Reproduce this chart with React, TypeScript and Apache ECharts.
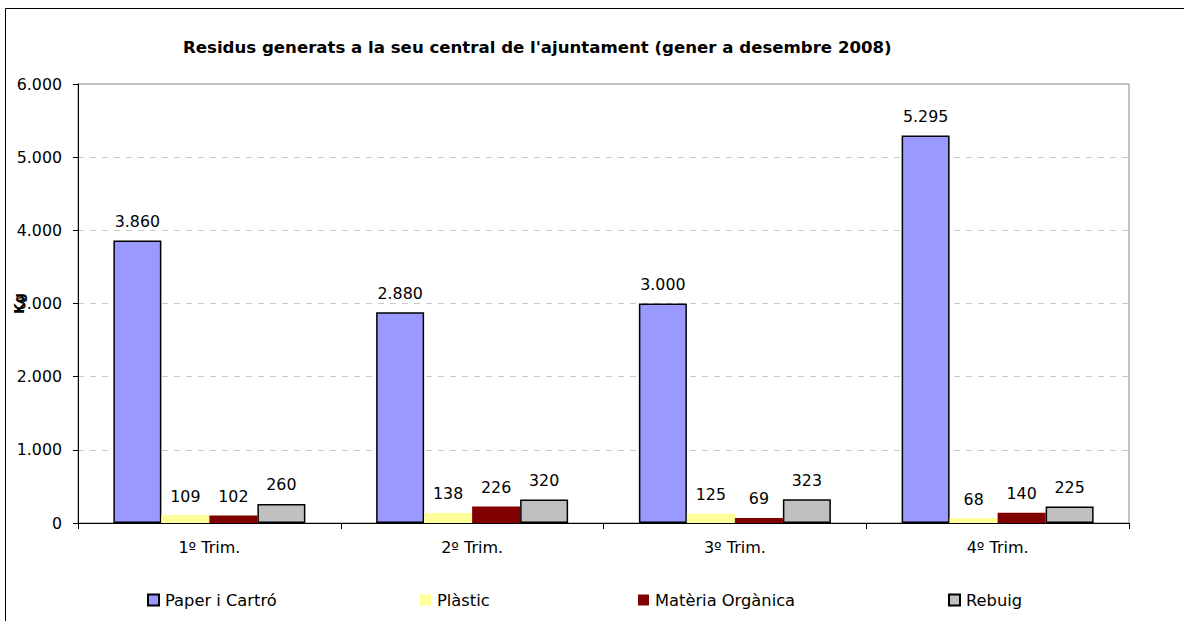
import React, { useEffect, useRef } from "react";
import * as echarts from "echarts";

const categories = ["1º Trim.", "2º Trim.", "3º Trim.", "4º Trim."];
const paperValues = [3860, 2880, 3000, 5295];
const plasticValues = [109, 138, 125, 68];
const organicValues = [102, 226, 69, 140];
const rebuigValues = [260, 320, 323, 225];
const seriesNames = ["Paper i Cartró", "Plàstic", "Matèria Orgànica", "Rebuig"];
const yTicks = [0, 1000, 2000, 3000, 4000, 5000, 6000];

const FONT = "'DejaVu Sans', 'Liberation Sans', Arial, sans-serif";

function fmt(v: number): string {
  return String(Math.round(v)).replace(/\B(?=(\d{3})+(?!\d))/g, ".");
}

export default function App() {
  const ref = useRef<HTMLDivElement>(null);
  useEffect(() => {
    document.body.style.margin = "0";
    const chart = echarts.init(ref.current!, null, { renderer: "svg" });
    const colors = ["#9999FF", "#FFFF99", "#800000", "#C0C0C0"];
    const borders = ["#000000", null, null, "#000000"];
    const datas = [paperValues, plasticValues, organicValues, rebuigValues];
    const legendLefts = [147, 420, 638, 948];
    chart.setOption({
      animation: false,
      backgroundColor: "#ffffff",
      title: {
        text: "Residus generats a la seu central de l'ajuntament (gener a desembre 2008)",
        left: 183,
        top: 39,
        padding: 0,
        textStyle: { fontFamily: FONT, fontSize: 16.6, fontWeight: "bold", color: "#000" },
      },
      graphic: [
        {
          type: "rect",
          shape: { x: 5.5, y: 8.5, width: 1300, height: 700 },
          style: { fill: "none", stroke: "#000", lineWidth: 1 },
          silent: true,
        },
      ],
      legend: seriesNames.map((n, i) => ({
        data: [n],
        left: legendLefts[i],
        top: 592,
        padding: 0,
        itemWidth: 11,
        itemHeight: 11,
        icon: "rect",
        textStyle: { fontFamily: FONT, fontSize: 16.3, color: "#000", padding: [0, 0, 0, 1] },
      })),
      grid: {
        left: 78,
        right: 55,
        top: 84,
        bottom: 98,
        show: true,
        borderColor: "#888888",
        borderWidth: 1,
        containLabel: false,
        outerBoundsMode: "none",
      },
      xAxis: {
        type: "category",
        data: categories,
        axisLine: { lineStyle: { color: "#000", width: 1 } },
        axisTick: { show: true, length: 6, lineStyle: { color: "#000" } },
        axisLabel: { fontFamily: FONT, fontSize: 16, color: "#000", margin: 16 },
      },
      yAxis: {
        type: "value",
        min: yTicks[0],
        max: yTicks[yTicks.length - 1],
        interval: 1000,
        name: "Kg",
        nameLocation: "middle",
        nameRotate: 90,
        nameGap: 52,
        nameMoveOverlap: false,
        nameTextStyle: { fontFamily: FONT, fontSize: 14, fontWeight: "bold", color: "#000" },
        axisLine: { show: true, lineStyle: { color: "#000", width: 1 } },
        axisTick: { show: true, length: 5, lineStyle: { color: "#000" } },
        axisLabel: {
          fontFamily: FONT,
          fontSize: 15.8,
          color: "#000",
          margin: 16,
          formatter: (v: number) => fmt(v),
        },
        splitLine: {
          show: true,
          lineStyle: {
            type: [6, 6],
            color: ["#c8c8c8", "#c8c8c8", "#c8c8c8", "#c8c8c8", "#c8c8c8", "#c8c8c8", "rgba(0,0,0,0)"],
          },
        },
      },
      series: seriesNames.map((n, i) => ({
        name: n,
        type: "bar",
        data: datas[i],
        barWidth: 48,
        barGap: "0%",
        itemStyle: {
          color: colors[i],
          borderColor: borders[i] || colors[i],
          borderWidth: borders[i] ? 1.5 : 0,
        },
        label: {
          show: true,
          position: "top",
          distance: 11,
          fontFamily: FONT,
          fontSize: 15.8,
          color: "#000",
          formatter: (p: any) => fmt(p.value),
        },
      })),
    });
    return () => chart.dispose();
  }, []);
  return (
    <div
      ref={ref}
      style={{ position: "absolute", left: 0, top: 0, width: 1184, height: 621 }}
    />
  );
}
